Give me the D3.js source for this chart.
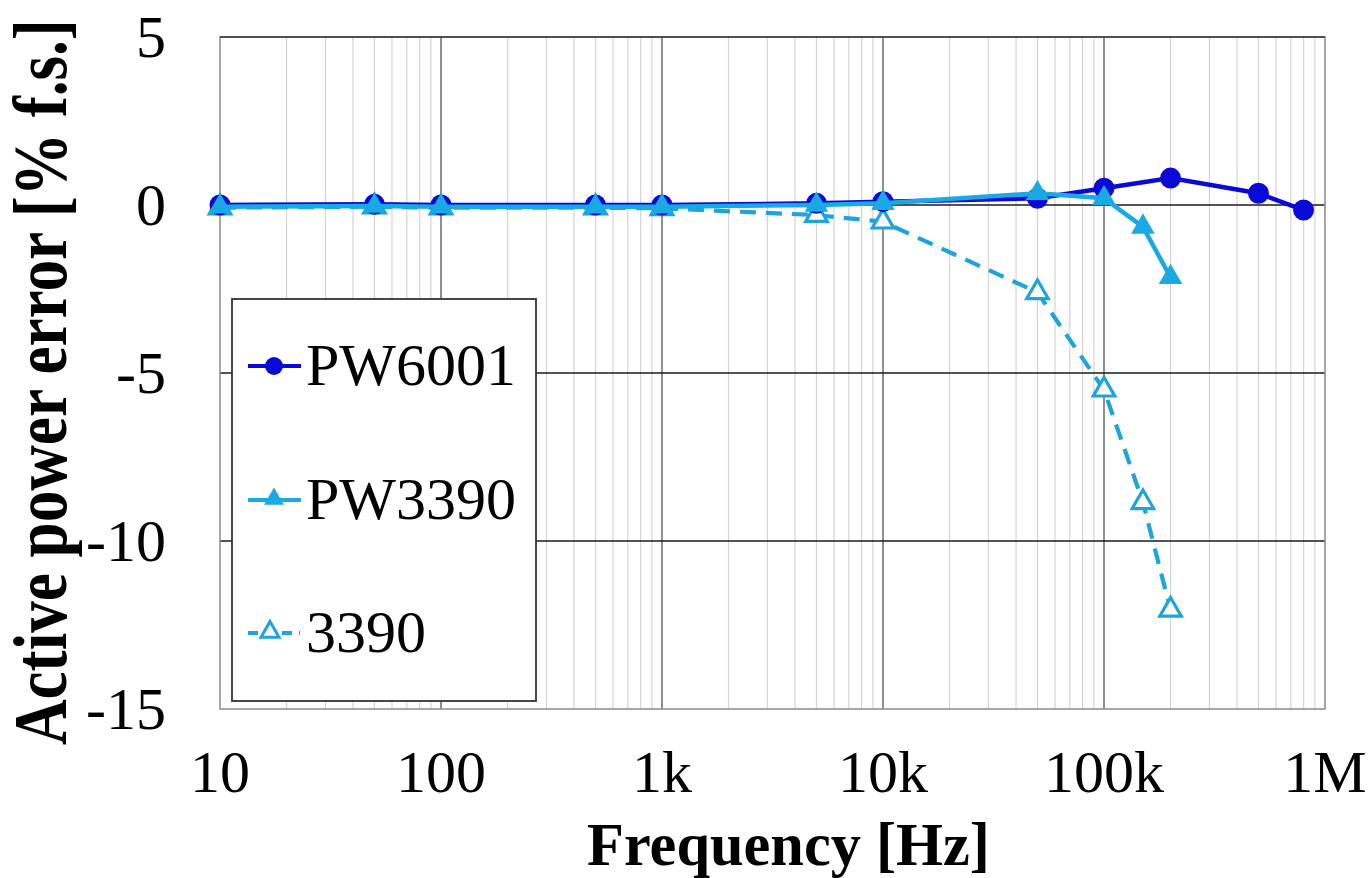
<!DOCTYPE html>
<html>
<head>
<meta charset="utf-8">
<script src="https://cdn.jsdelivr.net/npm/d3@7"></script>
<style>
  html, body { margin: 0; padding: 0; background: #fff; }
  svg { display: block; }
  text { font-family: "Liberation Serif", "Times New Roman", serif; fill: #000; }
</style>
</head>
<body>
<svg id="chart" width="1370" height="878"></svg>
<script>
// ---- data ----
const freqPW6001 = [10, 50, 100, 500, 1000, 5000, 10000, 50000, 100000, 200000, 500000, 800000];
const errPW6001  = [0, 0.02, 0, 0, 0, 0.05, 0.1, 0.2, 0.5, 0.8, 0.35, -0.15];
const freq3390   = [10, 50, 100, 500, 1000, 5000, 10000, 50000, 100000, 150000, 200000];
const errPW3390  = [-0.05, -0.03, -0.05, -0.05, -0.05, 0.0, 0.05, 0.35, 0.2, -0.65, -2.15];
const err3390    = [-0.08, -0.05, -0.08, -0.08, -0.1, -0.3, -0.5, -2.6, -5.5, -8.85, -12.05];
const xTickValues = [10, 100, 1000, 10000, 100000, 1000000];
const xTickLabels = ["10", "100", "1k", "10k", "100k", "1M"];
const yTickValues = [5, 0, -5, -10, -15];
const seriesNames = ["PW6001", "PW3390", "3390"];
const xTitle = "Frequency [Hz]";
const yTitle = "Active power error [% f.s.]";

// ---- layout ----
const svg = d3.select("#chart");
const L = 220, R = 1325, T = 37, B = 709;
const x = d3.scaleLog().domain([10, 1e6]).range([L, R]);
const y = d3.scaleLinear().domain([-15, 5]).range([B, T]);

const cDark = "#0a0ad6", cLight = "#19a9e3", cDash = "#1ea3da";

// minor vertical grid
const minors = [];
for (let d = 10; d < 1e6; d *= 10) for (let k = 2; k <= 9; k++) minors.push(d * k);
svg.append("g").selectAll("line").data(minors).join("line")
  .attr("x1", d => x(d)).attr("x2", d => x(d))
  .attr("y1", T).attr("y2", B)
  .attr("stroke", "#d4d4d4").attr("stroke-width", 1.2);

// major vertical grid
svg.append("g").selectAll("line").data(xTickValues.slice(1, -1)).join("line")
  .attr("x1", d => x(d)).attr("x2", d => x(d))
  .attr("y1", T).attr("y2", B)
  .attr("stroke", "#6a6a6a").attr("stroke-width", 1.5);

// horizontal grid
svg.append("g").selectAll("line").data([0, -5, -10]).join("line")
  .attr("x1", L).attr("x2", R)
  .attr("y1", d => y(d)).attr("y2", d => y(d))
  .attr("stroke", "#1a1a1a").attr("stroke-width", 1.6);

// plot border
svg.append("rect").attr("x", L).attr("y", T).attr("width", R - L).attr("height", B - T)
  .attr("fill", "none").attr("stroke", "#8a8a8a").attr("stroke-width", 1.5);
svg.append("line").attr("x1", L).attr("x2", R).attr("y1", T).attr("y2", T)
  .attr("stroke", "#333").attr("stroke-width", 1.5);

// axes labels
svg.append("g").selectAll("text").data(xTickValues).join("text")
  .attr("x", d => x(d)).attr("y", 792)
  .attr("text-anchor", "middle").attr("font-size", 60)
  .text((d, i) => xTickLabels[i]);

svg.append("g").selectAll("text").data(yTickValues).join("text")
  .attr("x", 166).attr("y", d => y(d) + 20)
  .attr("text-anchor", "end").attr("font-size", 60)
  .text(d => d);

// x title, condensed to fit its measured span
const xt = svg.append("text")
  .attr("font-size", 62).attr("font-weight", "bold")
  .text(xTitle);
const xtw = xt.node().getComputedTextLength();
xt.attr("transform", `translate(587,865) scale(${403 / xtw},1)`);

// y title, rotated and condensed
const yt = svg.append("text")
  .attr("font-size", 76).attr("font-weight", "bold")
  .text(yTitle);
const ytw = yt.node().getComputedTextLength();
yt.attr("transform", `translate(66,745) rotate(-90) scale(${726 / ytw},1)`);

// ---- series ----
const line = d3.line().x(d => x(d[0])).y(d => y(d[1]));
const s6001 = freqPW6001.map((f, i) => [f, errPW6001[i]]);
const sPW3390 = freq3390.map((f, i) => [f, errPW3390[i]]);
const s3390 = freq3390.map((f, i) => [f, err3390[i]]);

const tri = d3.symbol().type(d3.symbolTriangle);

// 3390 dashed, open triangles
svg.append("path").attr("d", line(s3390))
  .attr("fill", "none").attr("stroke", cDash).attr("stroke-width", 4.2)
  .attr("stroke-dasharray", "16,10");
svg.append("g").selectAll("path").data(s3390).join("path")
  .attr("d", tri.size(200)())
  .attr("transform", d => `translate(${x(d[0])},${y(d[1])})`)
  .attr("fill", "#fff").attr("stroke", cDash).attr("stroke-width", 3.2);

// PW6001
svg.append("path").attr("d", line(s6001))
  .attr("fill", "none").attr("stroke", cDark).attr("stroke-width", 4.5);
svg.append("g").selectAll("circle").data(s6001).join("circle")
  .attr("cx", d => x(d[0])).attr("cy", d => y(d[1])).attr("r", 10.5)
  .attr("fill", cDark);

// PW3390
svg.append("path").attr("d", line(sPW3390))
  .attr("fill", "none").attr("stroke", cLight).attr("stroke-width", 4.5);
svg.append("g").selectAll("path").data(sPW3390).join("path")
  .attr("d", tri.size(240)())
  .attr("transform", d => `translate(${x(d[0])},${y(d[1])})`)
  .attr("fill", cLight);

// ---- legend ----
const lg = svg.append("g");
lg.append("rect").attr("x", 232).attr("y", 299).attr("width", 304).attr("height", 402)
  .attr("fill", "#fff").attr("stroke", "#333").attr("stroke-width", 1.8);
const legY = [366, 500, 633];
const legColors = [cDark, cLight, cDash];
seriesNames.forEach((name, i) => {
  const yy = legY[i];
  const ln = lg.append("line").attr("x1", 248).attr("x2", 301).attr("y1", yy).attr("y2", yy)
    .attr("stroke", legColors[i]).attr("stroke-width", 4);
  if (i === 2) ln.attr("stroke-dasharray", "10,7").attr("x2", 300);
  if (i === 0) {
    lg.append("circle").attr("cx", 274).attr("cy", yy).attr("r", 9).attr("fill", cDark);
  } else if (i === 1) {
    lg.append("path").attr("d", tri.size(170)()).attr("transform", `translate(274,${yy - 1})`).attr("fill", cLight);
  } else {
    lg.append("path").attr("d", tri.size(140)()).attr("transform", `translate(270,${yy - 1})`)
      .attr("fill", "#fff").attr("stroke", cDash).attr("stroke-width", 3);
  }
  lg.append("text").attr("x", 306).attr("y", yy + 19).attr("font-size", 60).text(name);
});
</script>
</body>
</html>
